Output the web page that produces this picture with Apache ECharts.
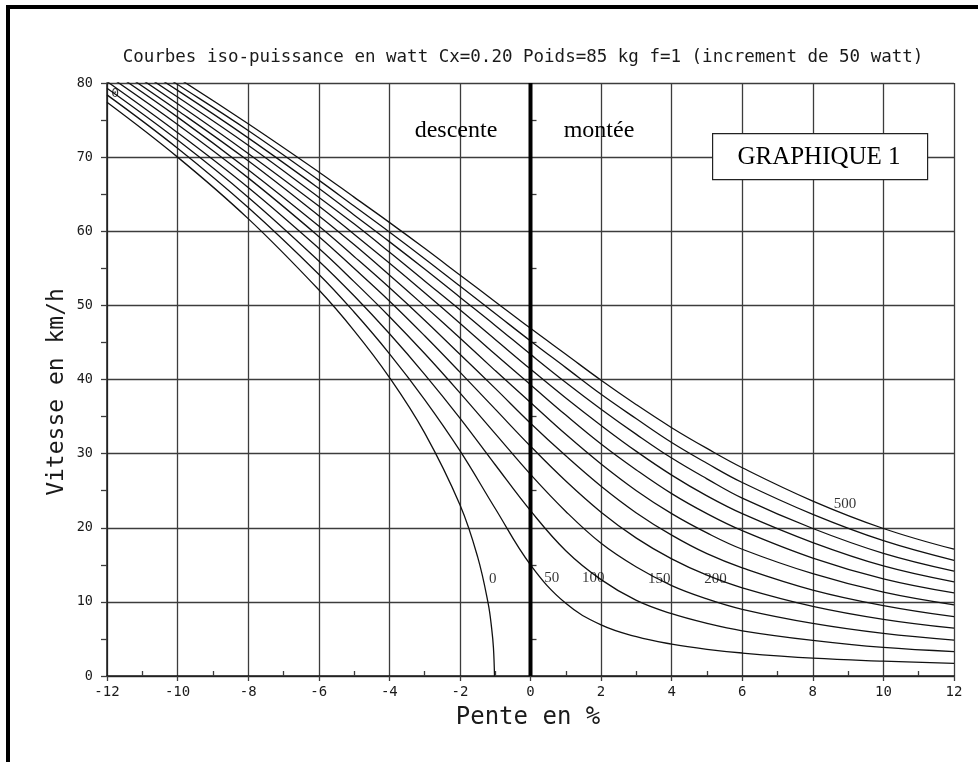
<!DOCTYPE html>
<html>
<head>
<meta charset="utf-8">
<title>Courbes iso-puissance</title>
<script src="https://cdn.jsdelivr.net/npm/echarts@6/dist/echarts.min.js"></script>
<style>
  html, body { margin: 0; padding: 0; background: #fff; }
  #chart { width: 978px; height: 762px; }
</style>
</head>
<body>
<div id="chart"></div>
<script>
// pente en %, vitesse en km/h
const slopes = [-12, -10, -8, -6, -5, -4, -3, -2, -1, 0, 1, 2, 3, 4, 5, 6, 8, 10, 12];
const slopesZero = [-12, -10, -8, -6, -5, -4, -3, -2, -1.5, -1.2, -1.1, -1.05, -1.02];

const v000 = [77.4, 70.0, 61.7, 52.1, 46.6, 40.3, 32.8, 23.1, 16.1, 9.8, 6.4, 3.8, 0];
const v050 = [78.4, 71.2, 63.2, 54.2, 49.1, 43.5, 37.3, 30.4, 22.6, 15.0, 9.8, 6.9, 5.3, 4.3, 3.6, 3.1, 2.4, 2.0, 1.7];
const v100 = [79.3, 72.3, 64.6, 56.0, 51.3, 46.2, 40.7, 34.8, 28.5, 22.3, 16.9, 13.0, 10.2, 8.4, 7.1, 6.1, 4.8, 3.85, 3.3];
const v150 = [80.2, 73.3, 65.9, 57.7, 53.2, 48.5, 43.5, 38.2, 32.7, 27.2, 22.2, 17.9, 14.7, 12.2, 10.4, 9.0, 7.1, 5.75, 4.85];
const v200 = [81.1, 74.4, 67.2, 59.3, 55.0, 50.6, 45.9, 41.0, 36.0, 31.0, 26.3, 22.1, 18.6, 15.8, 13.6, 11.9, 9.4, 7.65, 6.45];
const v250 = [82.0, 75.4, 68.3, 60.7, 56.6, 52.4, 48.0, 43.4, 38.8, 34.1, 29.7, 25.6, 22.0, 19.0, 16.5, 14.6, 11.6, 9.5, 8.0];
const v300 = [82.8, 76.3, 69.5, 62.1, 58.2, 54.1, 49.9, 45.6, 41.2, 36.9, 32.6, 28.6, 25.0, 21.9, 19.3, 17.1, 13.8, 11.3, 9.6];
const v350 = [83.6, 77.2, 70.5, 63.4, 59.6, 55.7, 51.7, 47.6, 43.4, 39.3, 35.2, 31.3, 27.8, 24.6, 21.9, 19.6, 15.9, 13.1, 11.2];
const v400 = [84.4, 78.1, 71.6, 64.6, 61.0, 57.2, 53.3, 49.4, 45.4, 41.4, 37.5, 33.8, 30.3, 27.1, 24.3, 21.9, 18.0, 14.85, 12.7];
const v450 = [85.1, 79.0, 72.6, 65.8, 62.2, 58.6, 54.9, 51.1, 47.3, 43.4, 39.6, 36.0, 32.6, 29.4, 26.6, 24.0, 19.9, 16.55, 14.15];
const v500 = [85.9, 79.8, 73.6, 66.9, 63.4, 59.9, 56.3, 52.6, 48.9, 45.2, 41.6, 38.0, 34.7, 31.5, 28.7, 26.1, 21.8, 18.25, 15.6];
const v550 = [86.6, 80.7, 74.5, 68.0, 64.6, 61.2, 57.7, 54.1, 50.5, 46.9, 43.4, 39.9, 36.6, 33.5, 30.7, 28.1, 23.6, 19.9, 17.1];

const powers = [0, 50, 100, 150, 200, 250, 300, 350, 400, 450, 500, 550];
const speeds = [v000, v050, v100, v150, v200, v250, v300, v350, v400, v450, v500, v550];

// etiquettes des courbes (en coordonnees du graphique)
const labelNames = ['0', '50', '100', '150', '200', '500'];
const labelX = [-1.07, 0.60, 1.78, 3.65, 5.24, 8.91];
const labelY = [13.1, 13.25, 13.15, 13.1, 13.1, 23.2];

const mono = '"DejaVu Sans Mono", "Liberation Mono", monospace';
const serif = '"Liberation Serif", "DejaVu Serif", serif';
const ink = '#1a1a1a';
const gridColor = '#3c3c3c';

const chart = echarts.init(document.getElementById('chart'), null, { renderer: 'canvas' });

const curveSeries = powers.map((p, i) => ({
  name: p + ' W',
  type: 'line',
  smooth: 0.4,
  symbol: 'none',
  silent: true,
  z: 3,
  lineStyle: { color: '#111', width: 1.3 },
  data: (p === 0 ? slopesZero : slopes).map((s, j) => [s, speeds[i][j]])
}));

const option = {
  animation: false,
  backgroundColor: '#fff',
  grid: { left: 107, right: 24, top: 83, bottom: 86 },
  xAxis: [
    {
      type: 'value', min: -12, max: 12, interval: 2,
      axisLine: { show: true, onZero: false, lineStyle: { color: ink, width: 1.5 } },
      axisTick: { show: true, length: 5, lineStyle: { color: gridColor, width: 1.3 } },
      minorTick: { show: false },
      splitLine: { show: true, lineStyle: { color: gridColor, width: 1.3 } },
      axisLabel: { fontFamily: mono, fontSize: 14, color: ink, margin: 9, showMinLabel: true, showMaxLabel: true }
    },
    {
      type: 'value', min: -12, max: 12, interval: 2, position: 'bottom',
      axisLine: { show: false },
      axisTick: { show: false, inside: true },
      minorTick: { show: true, splitNumber: 2, length: 5, lineStyle: { color: gridColor, width: 1.3 } },
      splitLine: { show: false },
      axisLabel: { show: false }
    }
  ],
  yAxis: [
    {
      type: 'value', min: 0, max: 80, interval: 10,
      axisLine: { show: true, onZero: false, lineStyle: { color: ink, width: 1.5 } },
      axisTick: { show: true, length: 6, lineStyle: { color: gridColor, width: 1.3 } },
      minorTick: { show: true, splitNumber: 2, length: 6, lineStyle: { color: gridColor, width: 1.3 } },
      splitLine: { show: true, lineStyle: { color: gridColor, width: 1.3 } },
      axisLabel: { fontFamily: mono, fontSize: 13.5, color: ink, margin: 14 }
    },
    {
      type: 'value', min: 0, max: 80, interval: 10, position: 'left',
      axisLine: { show: false },
      axisTick: { show: false, inside: true },
      minorTick: { show: true, splitNumber: 2, length: 6, lineStyle: { color: gridColor, width: 1.3 } },
      splitLine: { show: false },
      axisLabel: { show: false }
    }
  ],
  series: [
    ...curveSeries,
    {
      name: 'pente nulle',
      type: 'line',
      symbol: 'none',
      silent: true,
      z: 4,
      lineStyle: { color: '#000', width: 4 },
      data: [[0, 0], [0, 80]]
    },
    {
      name: 'etiquettes',
      type: 'scatter',
      symbolSize: 1,
      silent: true,
      z: 5,
      itemStyle: { color: 'rgba(0,0,0,0)' },
      label: {
        show: true, position: 'inside', formatter: '{b}',
        fontFamily: serif, fontSize: 15, color: '#000'
      },
      data: labelNames.map((n, i) => ({ name: n, value: [labelX[i], labelY[i]] }))
    },
    {
      name: 'etiquette zero',
      type: 'scatter',
      symbolSize: 1,
      silent: true,
      z: 5,
      itemStyle: { color: 'rgba(0,0,0,0)' },
      label: {
        show: true, position: 'inside', formatter: '{b}',
        fontFamily: mono, fontSize: 13, color: '#000'
      },
      data: [{ name: '0', value: [-11.77, 78.5] }]
    }
  ],
  graphic: [
    // cadre
    { type: 'rect', left: 6, top: 5, shape: { width: 972, height: 4 }, style: { fill: '#000' }, silent: true },
    { type: 'rect', left: 6, top: 5, shape: { width: 4, height: 757 }, style: { fill: '#000' }, silent: true },
    {
      type: 'text', x: 523, y: 57, silent: true,
      style: {
        text: 'Courbes iso-puissance en watt Cx=0.20 Poids=85 kg f=1 (increment de 50 watt)',
        font: '17.5px ' + mono, fill: ink, align: 'center', verticalAlign: 'middle'
      }
    },
    {
      type: 'text', x: 528, y: 718, silent: true,
      style: { text: 'Pente en %', font: '24px ' + mono, fill: ink, align: 'center', verticalAlign: 'middle' }
    },
    {
      type: 'text', x: 57, y: 392, rotation: Math.PI / 2, silent: true,
      style: { text: 'Vitesse en km/h', font: '23px ' + mono, fill: ink, align: 'center', verticalAlign: 'middle' }
    },
    {
      type: 'text', x: 456, y: 131, silent: true, z: 10,
      style: { text: 'descente', font: '24px ' + serif, fill: '#000', align: 'center', verticalAlign: 'middle' }
    },
    {
      type: 'text', x: 599, y: 131, silent: true, z: 10,
      style: { text: 'montée', font: '24px ' + serif, fill: '#000', align: 'center', verticalAlign: 'middle' }
    },
    {
      type: 'rect', left: 712, top: 133, z: 10, silent: true,
      shape: { width: 215, height: 46 },
      style: { fill: '#fff', stroke: '#222', lineWidth: 1.2 }
    },
    {
      type: 'text', x: 819, y: 157, silent: true, z: 11,
      style: { text: 'GRAPHIQUE 1', font: '25px ' + serif, fill: '#000', align: 'center', verticalAlign: 'middle' }
    }
  ]
};

chart.setOption(option);
</script>
</body>
</html>
